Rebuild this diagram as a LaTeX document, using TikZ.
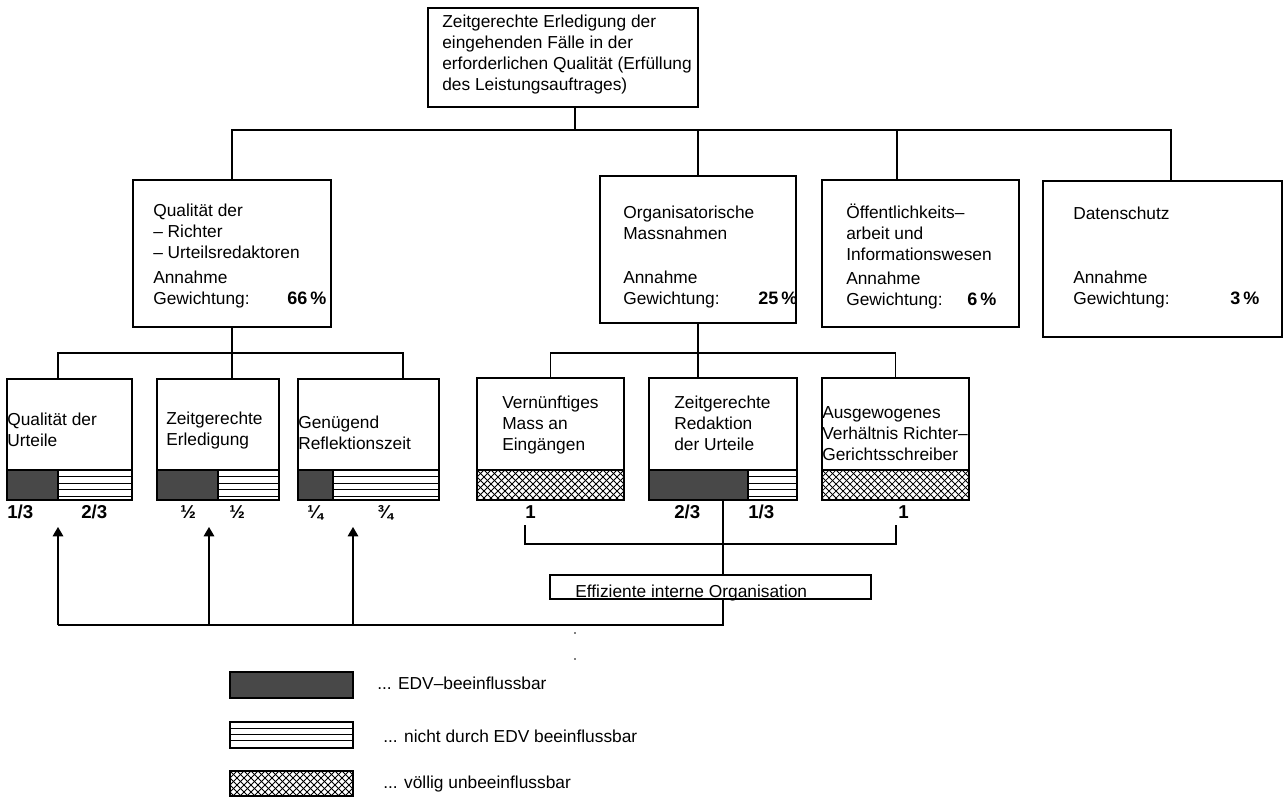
\documentclass[tikz,border=0pt]{standalone}
\usepackage{fontspec}
\setmainfont{Liberation Sans}
\usetikzlibrary{fit,arrows.meta}
\definecolor{darkfill}{RGB}{72,72,72}
\newcommand{\tl}[1]{\begin{tabular}[t]{@{}l@{}}#1\end{tabular}}
% dark / striped bottom part: x1, xdark, x2, ysplit, ybottom
\newcommand{\dpart}[5]{%
  \fill[darkfill] (#1,#4) rectangle (#2,#5);
  \foreach \yy in {6.5,13,19.5,26} {\draw[stripe] (#2,#4+\yy) -- (#3,#4+\yy);}
  \draw[conn] (#1,#4) -- (#3,#4);
  \draw[conn] (#2,#4) -- (#2,#5);}
% cross-hatched part: x1, x2, ytop, ybottom
\newcommand{\hpart}[4]{%
  \begin{scope}
    \clip (#1,#3) rectangle (#2,#4);
    \foreach \c in {-35,-28,...,196} {
      \draw[hatch] (#1+\c,#3) -- ++(35,35);
      \draw[hatch] (#1+\c,#3) -- ++(-35,35);}
  \end{scope}}
\begin{document}
\begin{tikzpicture}[x=0.75pt,y=-0.75pt,
  box/.style={draw=black, line width=0.8pt, inner sep=0pt},
  txt/.style={anchor=base west, inner sep=0pt, font=\fontsize{13}{15.75}\selectfont},
  pct/.style={anchor=base west, inner sep=0pt, font=\fontsize{13.5}{16}\selectfont\bfseries},
  lbl/.style={anchor=base west, inner sep=0pt, font=\fontsize{14}{16}\selectfont\bfseries},
  conn/.style={line width=0.8pt},
  arr/.style={line width=0.8pt, -{Triangle[length=7pt,width=8pt]}},
  stripe/.style={line width=0.5pt},
  hatch/.style={line width=0.55pt}]

\useasboundingbox (0,0) rectangle (1284,796);
\fill[white] (0,0) rectangle (1284,796);

% ---------- fills of the lower boxes ----------
\dpart{7}{58}{132}{470}{500}
\dpart{157}{218}{279}{470}{500}
\dpart{298}{333}{439}{470}{500}
\dpart{649}{748}{797}{470}{500}
\hpart{477}{624}{470}{500}
\draw[conn] (477,470) -- (624,470);
\hpart{822}{969}{470}{500}
\draw[conn] (822,470) -- (969,470);

% ---------- legend fills ----------
\fill[darkfill] (230,672) rectangle (353,698);
\foreach \yy in {728,734,740} {\draw[stripe] (230,\yy) -- (353,\yy);}
\hpart{230}{353}{771}{796}

% ---------- boxes ----------
\node[box, fit={(428,8) (698,107)}] (top) {};
\node[box, fit={(133,180) (331,327)}] (q) {};
\node[box, fit={(600,176) (796,323)}] (org) {};
\node[box, fit={(822,180) (1019,327)}] (oef) {};
\node[box, fit={(1043,181) (1282,337)}] (dat) {};
\node[box, fit={(7,379) (132,500)}] (a) {};
\node[box, fit={(157,379) (279,500)}] (b) {};
\node[box, fit={(298,379) (439,500)}] (c) {};
\node[box, fit={(477,378) (624,500)}] (d) {};
\node[box, fit={(649,378) (797,500)}] (e) {};
\node[box, fit={(822,378) (969,500)}] (f) {};
\node[box, fit={(550,575) (871,599)}] (eff) {};
\node[box, fit={(230,672) (353,698)}] (leg1) {};
\node[box, fit={(230,722) (353,748)}] (leg2) {};
\node[box, fit={(230,771) (353,796)}] (leg3) {};

% ---------- texts ----------
\node[txt] (ttop) at (442,27) {\tl{Zeitgerechte Erledigung der\\eingehenden Fälle in der\\erforderlichen Qualität (Erfüllung\\des Leistungsauftrages)}};

\node[txt] (tq) at (153,216) {\tl{Qualität der\\– Richter\\– Urteilsredaktoren}};
\node[txt] (tq2) at (153,283) {\tl{Annahme\\Gewichtung:}};
\node[pct] (pq) at (287,304) {66\,\%};

\node[txt] (torg) at (623,218) {\tl{Organisatorische\\Massnahmen}};
\node[txt] (torg2) at (623,283) {\tl{Annahme\\Gewichtung:}};
\node[pct] (porg) at (758,304) {25\,\%};

\node[txt] (toef) at (846,218) {\tl{Öffentlichkeits–\\arbeit und\\Informationswesen}};
\node[txt] (toef2) at (846,284) {\tl{Annahme\\Gewichtung:}};
\node[pct] (poef) at (967,305) {6\,\%};

\node[txt] (tdat) at (1073,219) {Datenschutz};
\node[txt] (tdat2) at (1073,283) {\tl{Annahme\\Gewichtung:}};
\node[pct] (pdat) at (1230,304) {3\,\%};

\node[txt] (ta) at (7,425) {\tl{Qualität der\\Urteile}};
\node[txt] (tb) at (166,424) {\tl{Zeitgerechte\\Erledigung}};
\node[txt] (tc) at (298,428) {\tl{Genügend\\Reflektionszeit}};
\node[txt] (td) at (502,408) {\tl{Vernünftiges\\Mass an\\Eingängen}};
\node[txt] (te) at (674,408) {\tl{Zeitgerechte\\Redaktion\\der Urteile}};
\node[txt] (tf) at (822,418) {\tl{Ausgewogenes\\Verhältnis Richter–\\Gerichtsschreiber}};

\node[lbl] (la1) at (7,518) {1/3};
\node[lbl] (la2) at (81,518) {2/3};
\node[lbl] (lb1) at (180,518) {½};
\node[lbl] (lb2) at (229,518) {½};
\node[lbl] (lc1) at (307,518) {¼};
\node[lbl] (lc2) at (377,518) {¾};
\node[lbl] (ld) at (525,518) {1};
\node[lbl] (le1) at (674,518) {2/3};
\node[lbl] (le2) at (748,518) {1/3};
\node[lbl] (lf) at (898,518) {1};

\node[txt] (teff) at (575,597) {Effiziente interne Organisation};

\node[txt] (tl1) at (377,689) {... EDV–beeinflussbar};
\node[txt] (tl2) at (383,742) {... nicht durch EDV beeinflussbar};
\node[txt] (tl3) at (383,788) {... völlig unbeeinflussbar};

% ---------- connectors ----------
\coordinate (hub) at (575,130);
\draw[conn] (hub |- top.south) -- (hub);
\draw[conn] (q.north) |- (hub) -| (dat.north -| 1171,0);
\draw[conn] (org.north) -- (org.north |- hub);
\draw[conn] (hub -| 897,0) -- (oef.north -| 897,0);

\coordinate (busl) at (0,353);
\draw[conn] (q.south) -- (q.south |- b.north);
\draw[conn] (a.north -| 58,0) |- (403,353) -- (c.north -| 403,0);
\draw[conn] (org.south) -- (org.south |- e.north);
\draw[conn] (d.north) |- (f.north |- busl) -- (f.north);

\coordinate (brl) at (525,525);
\coordinate (brr) at (896,525);
\draw[conn] (brl) -- (525,544) -- (896,544) -- (brr);
\draw[conn] (e.south) -- (eff.north -| e.south);
\coordinate (bot) at (723,625);
\draw[conn] (eff.south -| e.south) -- (bot) -- (58,625);
\coordinate (ar1) at (58,527);
\coordinate (ar2) at (209,527);
\coordinate (ar3) at (353,527);
\draw[arr] (58,625) -- (ar1);
\draw[arr] (209,625) -- (ar2);
\draw[arr] (353,625) -- (ar3);

\fill (575,633) circle (0.7pt);
\fill (575,659) circle (0.7pt);
\end{tikzpicture}
\end{document}
